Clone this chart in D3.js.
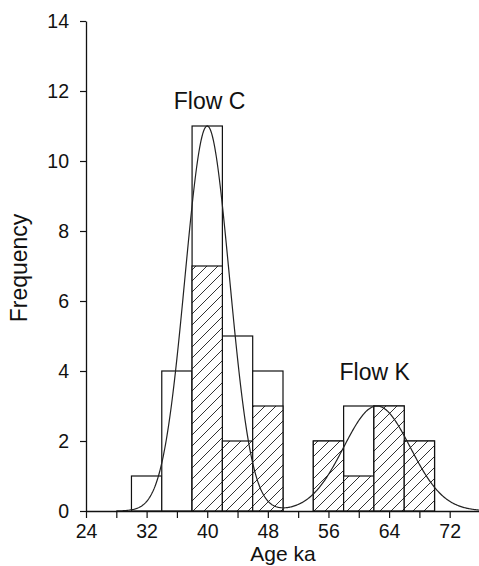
<!DOCTYPE html>
<html>
<head>
<meta charset="utf-8">
<script src="https://cdn.jsdelivr.net/npm/d3@7"></script>
<style>
  body { margin: 0; background: #fff; }
  svg { display: block; }
  text { font-family: "Liberation Sans", Arial, sans-serif; fill: #111; }
</style>
</head>
<body>
<svg id="chart" width="479" height="566"></svg>
<script>
// histogram bins (ka), 4 ka wide
var binStarts = [30, 34, 38, 42, 46, 54, 58, 62, 66];
var binWidth = 4;
var totalCounts = [1, 4, 11, 5, 4, 2, 3, 3, 2];
var hatchedCounts = [0, 0, 7, 2, 3, 2, 1, 3, 2];

// fitted normal curves (Flow C, Flow K)
var curveNames = ["Flow C", "Flow K"];
var curveMeans = [40, 62.4];
var curveSigmas = [2.94, 4.4];
var curvePeaks = [11, 3];
var curveRange = [28, 76];

var xTicks = [24, 28, 32, 36, 40, 44, 48, 52, 56, 60, 64, 68, 72];
var xTickLabels = [24, 32, 40, 48, 56, 64, 72];
var yTicks = [0, 2, 4, 6, 8, 10, 12, 14];

var svg = d3.select("#chart");
var x = d3.scaleLinear().domain([24, 76]).range([86, 480]);
var y = d3.scaleLinear().domain([0, 14]).range([511, 21]);

// hatch pattern
var defs = svg.append("defs");
var pat = defs.append("pattern")
    .attr("id", "hatch")
    .attr("patternUnits", "userSpaceOnUse")
    .attr("width", 11)
    .attr("height", 11);
pat.append("rect").attr("width", 11).attr("height", 11).attr("fill", "#fff");
pat.append("path")
    .attr("d", "M-1,12 L12,-1 M-1,1 L1,-1 M10,12 L12,10")
    .attr("stroke", "#333")
    .attr("stroke-width", 1);

var bins = binStarts.map(function (s, i) {
    return {x0: s, x1: s + binWidth, total: totalCounts[i], hatched: hatchedCounts[i]};
});

// open bars = all samples
svg.append("g").selectAll("rect")
    .data(bins)
    .enter()
    .append("rect")
    .attr("x", function (d) { return x(d.x0); })
    .attr("width", function (d) { return x(d.x1) - x(d.x0); })
    .attr("y", function (d) { return y(d.total); })
    .attr("height", function (d) { return y(0) - y(d.total); })
    .attr("fill", "#fff")
    .attr("stroke", "#111")
    .attr("stroke-width", 1.2);

// hatched part
svg.append("g").selectAll("rect")
    .data(bins.filter(function (d) { return d.hatched > 0; }))
    .enter()
    .append("rect")
    .attr("x", function (d) { return x(d.x0); })
    .attr("width", function (d) { return x(d.x1) - x(d.x0); })
    .attr("y", function (d) { return y(d.hatched); })
    .attr("height", function (d) { return y(0) - y(d.hatched); })
    .attr("fill", "url(#hatch)")
    .attr("stroke", "#111")
    .attr("stroke-width", 1.2);

// fitted curve (sum of the two normals)
function fitted(a) {
    var v = 0;
    for (var i = 0; i < curveMeans.length; i++) {
        var z = (a - curveMeans[i]) / curveSigmas[i];
        v += curvePeaks[i] * Math.exp(-0.5 * z * z);
    }
    return v;
}
var pts = d3.range(curveRange[0], curveRange[1] + 0.001, 0.1);
svg.append("path")
    .datum(pts)
    .attr("fill", "none")
    .attr("stroke", "#222")
    .attr("stroke-width", 1.2)
    .attr("d", d3.line()
        .x(function (d) { return x(d); })
        .y(function (d) { return y(fitted(d)); }));

// axes
var xAxis = d3.axisBottom(x)
    .tickValues(xTicks)
    .tickSize(7)
    .tickSizeOuter(0)
    .tickPadding(6)
    .tickFormat(function (d) { return xTickLabels.indexOf(d) >= 0 ? d : ""; });
var gx = svg.append("g").attr("transform", "translate(0," + y(0) + ")").call(xAxis);

var yAxis = d3.axisLeft(y)
    .tickValues(yTicks)
    .tickSize(6)
    .tickSizeOuter(0)
    .tickPadding(11);
var gy = svg.append("g").attr("transform", "translate(" + x(24) + ",0)").call(yAxis);

[gx, gy].forEach(function (g) {
    g.select(".domain").attr("stroke", "#111").attr("stroke-width", 1.3);
    g.selectAll(".tick line").attr("stroke", "#111").attr("stroke-width", 1.2);
    g.selectAll(".tick text").attr("font-size", 19.5).attr("font-family", null).attr("fill", "#111");
});

// axis titles
svg.append("text")
    .attr("x", (x.range()[0] + x.range()[1]) / 2)
    .attr("y", 561)
    .attr("text-anchor", "middle")
    .attr("font-size", 21)
    .text("Age ka");

svg.append("text")
    .attr("transform", "translate(27,268) rotate(-90)")
    .attr("text-anchor", "middle")
    .attr("font-size", 23)
    .text("Frequency");

// curve labels
svg.append("text")
    .attr("x", x(40.3))
    .attr("y", y(11.5))
    .attr("text-anchor", "middle")
    .attr("font-size", 23)
    .text(curveNames[0]);

svg.append("text")
    .attr("x", x(62.1))
    .attr("y", y(3.74))
    .attr("text-anchor", "middle")
    .attr("font-size", 23)
    .text(curveNames[1]);
</script>
</body>
</html>
